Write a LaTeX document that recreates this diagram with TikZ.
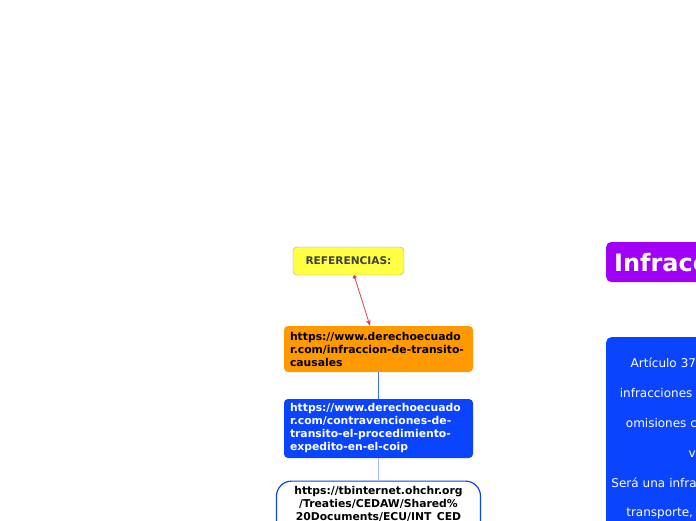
\documentclass[tikz,border=0pt]{standalone}
\usepackage{fontspec}
\setmainfont{DejaVu Sans}
\usetikzlibrary{positioning,arrows.meta}
\definecolor{refyellow}{HTML}{FFFF44}
\definecolor{reforange}{HTML}{FF9900}
\definecolor{refblue}{HTML}{0A44FF}
\definecolor{refpurple}{HTML}{A000F5}
\definecolor{refred}{HTML}{D8405A}
\definecolor{reflink}{HTML}{3A6BFF}
\definecolor{reflight}{HTML}{A8B8FF}

\begin{document}
\begin{tikzpicture}[x=1pt,y=-1pt,
  topic/.style={rounded corners=4pt, inner sep=0pt, font=\bfseries\fontsize{10.8}{13}\selectfont},
  urlbox/.style={topic, minimum width=189pt, text width=177pt, align=left},
  bigbox/.style={rounded corners=5pt, inner sep=0pt}]
  \useasboundingbox (0,0) rectangle (696,520);
  \clip (0,0) rectangle (696,520);
  % left branch
  \node[topic, fill=refyellow, draw=black!35, minimum width=111pt, minimum height=28pt,
        text=black!75, font=\bfseries\fontsize{10.6}{13}\selectfont] (ref) at (348.5,261) {REFERENCIAS:};
  \node[urlbox, fill=reforange, minimum height=46pt] (link1) at (378.5,349)
    {https://www.derechoecuado\\r.com/infraccion-de-transito-\\causales};
  \node[urlbox, fill=refblue, text=white, minimum height=59pt] (link2) at (378.5,428.5)
    {https://www.derechoecuado\\r.com/contravenciones-de-\\transito-el-procedimiento-\\expedito-en-el-coip};
  \node[topic, draw=refblue, line width=1.2pt, rounded corners=15pt, fill=white,
        minimum width=204pt, minimum height=90pt, align=center, anchor=north,
        inner ysep=3pt] (link3) at (378.5,480.5)
    {https://tbinternet.ohchr.org\\/Treaties/CEDAW/Shared\%\\20Documents/ECU/INT\_CED\\AW\_ARL\_ECU\_00000\_S.pdf\\[20pt]};
  \draw[refred, line width=0.8pt, {Circle[length=4pt]}-{Stealth[length=6pt,width=5pt]}]
    ([xshift=5.5pt]ref.south) -- ([xshift=-8.5pt]link1.north);
  \draw[reflink, line width=1pt] (link1.south) -- (link2.north);
  \draw[reflight, line width=1pt] (link2.south) -- (link3.north);
  % right branch
  \node[bigbox, fill=refpurple, text=white, anchor=west, minimum height=40pt,
        inner xsep=8pt, font=\bfseries\fontsize{24}{28}\selectfont] (title) at (606,262)
    {Infracciones de tránsito};
  \node[bigbox, fill=refblue, text=white, anchor=north west, text width=190pt,
        align=center, inner ysep=21pt, font=\fontsize{12}{29.8}\selectfont] (article) at (606,337)
    {Artículo 371.- Serán las\\infracciones de tránsito las\\omisiones culposas en la\\vial.\\Será una infracción cuando el\\transporte, tránsito y vía\\seguridad vial};
\end{tikzpicture}
\end{document}
